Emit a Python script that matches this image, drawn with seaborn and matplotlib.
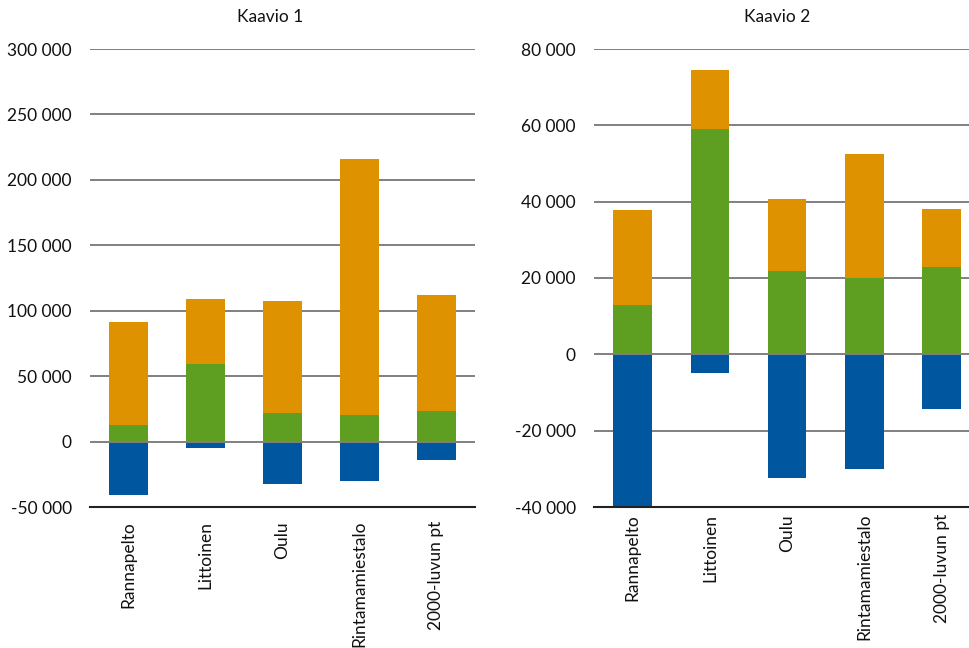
import matplotlib
matplotlib.use("Agg")
import matplotlib.pyplot as plt
import seaborn as sns
import pandas as pd
import numpy as np
from matplotlib.ticker import FuncFormatter, FixedLocator

categories = ["Rannapelto", "Littoinen", "Oulu", "Rintamamiestalo", "2000-luvun pt"]
blue_vals = [-40500, -5000, -32500, -30000, -14300]
green_vals = [12900, 59000, 21800, 20000, 23000]
orange1_vals = [78700, 50200, 86000, 196300, 89300]
orange2_vals = [24900, 15400, 18800, 32400, 15100]

titles = ["Kaavio 1", "Kaavio 2"]
yticks1 = [-50000, 0, 50000, 100000, 150000, 200000, 250000, 300000]
yticks2 = [-40000, -20000, 0, 20000, 40000, 60000, 80000]

C_BLUE = "#0057A0"
C_GREEN = "#5E9E20"
C_ORANGE = "#DF9200"
GRID = "#808080"

sns.set_theme(style="white")
plt.rcParams["font.family"] = ["Lato", "DejaVu Sans"]

fig = plt.figure(figsize=(9.7, 6.48), dpi=100)
ax1 = fig.add_axes([90/970, 141/648, 385/970, 458/648])
ax2 = fig.add_axes([594/970, 141/648, 376/970, 458/648])

def fmt(v, pos):
    s = f"{abs(int(round(v))):,}".replace(",", " ")
    return ("-" if v < 0 else "") + s

def draw(ax, orange_vals, yticks, title, title_x, xpad, xlim_right):
    df = pd.DataFrame({
        "cat": categories,
        "blue": blue_vals,
        "green": green_vals,
        "total": np.array(green_vals) + np.array(orange_vals),
    })
    sns.barplot(data=df, x="cat", y="total", color=C_ORANGE, saturation=1,
                width=0.5, ax=ax, zorder=2, linewidth=0)
    sns.barplot(data=df, x="cat", y="green", color=C_GREEN, saturation=1,
                width=0.5, ax=ax, zorder=2, linewidth=0)
    sns.barplot(data=df, x="cat", y="blue", color=C_BLUE, saturation=1,
                width=0.5, ax=ax, zorder=2, linewidth=0)
    ax.set_ylim(yticks[0], yticks[-1])
    ax.set_xlim(-0.5, xlim_right)
    ax.yaxis.set_major_locator(FixedLocator(yticks))
    ax.yaxis.set_major_formatter(FuncFormatter(fmt))
    for t in yticks[1:]:
        ax.axhline(t, color=GRID, lw=1.4, zorder=3 if t == 0 else 1)
    for s in ["top", "right", "left"]:
        ax.spines[s].set_visible(False)
    ax.spines["bottom"].set_color("#222222")
    ax.spines["bottom"].set_linewidth(1.5)
    ax.spines["bottom"].set_zorder(4)
    ax.set_xlabel("")
    ax.set_ylabel("")
    ax.tick_params(axis="y", length=0, pad=13, labelsize=12.5, labelcolor="#111111")
    ax.tick_params(axis="x", length=0, pad=xpad, labelsize=12.5, labelcolor="#111111")
    for lab in ax.get_xticklabels():
        lab.set_rotation(90)
        lab.set_va("top")
        lab.set_ha("center")
    ax.set_title(title, x=title_x, pad=19.5, fontsize=12.5, color="#111111")
    ax.set_facecolor("white")

draw(ax1, orange1_vals, yticks1, titles[0], 0.4675, 10, 4.5)
draw(ax2, orange2_vals, yticks2, titles[1], 0.487, 5, 4.367)

fig.savefig("out.png", dpi=100, facecolor="white")
